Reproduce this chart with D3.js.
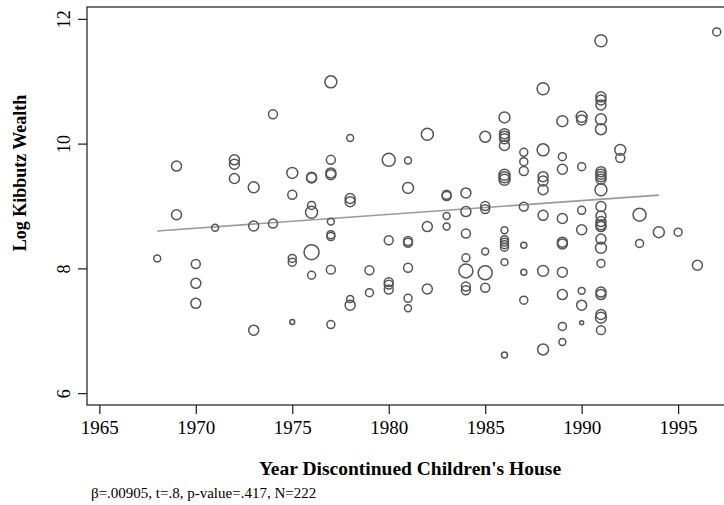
<!DOCTYPE html>
<html>
<head>
<meta charset="utf-8">
<script src="https://cdn.jsdelivr.net/npm/d3@7"></script>
<style>
  html, body { margin: 0; padding: 0; background: #fff; }
  svg { display: block; }
  text { font-family: "Liberation Serif", "Times New Roman", serif; fill: #000; }
</style>
</head>
<body>
<svg id="chart" width="724" height="505"></svg>
<script>
// ---- data ----
const years = [
  1968,
  1969, 1969,
  1970, 1970, 1970,
  1971,
  1972, 1972, 1972,
  1973, 1973, 1973,
  1974, 1974,
  1975, 1975, 1975, 1975, 1975,
  1976, 1976, 1976, 1976, 1976, 1976,
  1977, 1977, 1977, 1977, 1977, 1977, 1977, 1977, 1977,
  1978, 1978, 1978, 1978, 1978,
  1979, 1979,
  1980, 1980, 1980, 1980, 1980,
  1981, 1981, 1981, 1981, 1981, 1981, 1981,
  1982, 1982, 1982,
  1983, 1983, 1983, 1983,
  1984, 1984, 1984, 1984, 1984, 1984, 1984,
  1985, 1985, 1985, 1985, 1985, 1985,
  1986, 1986, 1986, 1986, 1986, 1986, 1986, 1986, 1986, 1986, 1986, 1986, 1986, 1986, 1986,
  1987, 1987, 1987, 1987, 1987, 1987, 1987,
  1988, 1988, 1988, 1988, 1988, 1988, 1988, 1988,
  1989, 1989, 1989, 1989, 1989, 1989, 1989, 1989, 1989, 1989,
  1990, 1990, 1990, 1990, 1990, 1990, 1990, 1990,
  1991, 1991, 1991, 1991, 1991, 1991, 1991, 1991, 1991, 1991, 1991, 1991, 1991, 1991, 1991, 1991, 1991, 1991, 1991, 1991, 1991, 1991, 1991, 1991,
  1992, 1992,
  1993, 1993,
  1994,
  1995,
  1996,
  1997
];
const wealth = [
  8.16,
  9.64, 8.86,
  8.07, 7.76, 7.44,
  8.65,
  9.74, 9.67, 9.44,
  9.30, 8.68, 7.01,
  10.47, 8.72,
  9.53, 9.18, 8.16, 8.10, 7.14,
  9.46, 9.45, 9.01, 8.90, 8.26, 7.89,
  10.99, 9.74, 9.53, 9.50, 8.75, 8.54, 8.51, 7.98, 7.10,
  10.09, 9.12, 9.07, 7.51, 7.41,
  7.97, 7.61,
  9.74, 8.45, 7.78, 7.74, 7.66,
  9.73, 9.29, 8.44, 8.41, 8.01, 7.52, 7.36,
  10.15, 8.67, 7.67,
  9.18, 9.16, 8.84, 8.67,
  9.21, 8.91, 8.56, 8.17, 7.96, 7.71, 7.65,
  10.11, 9.00, 8.95, 8.27, 7.93, 7.69,
  10.42, 10.16, 10.12, 10.08, 9.97, 9.50, 9.46, 9.42, 8.61, 8.46, 8.42, 8.38, 8.34, 8.10, 6.61,
  9.86, 9.71, 9.56, 8.99, 8.37, 7.94, 7.49,
  10.88, 9.90, 9.47, 9.40, 9.26, 8.85, 7.96, 6.70,
  10.36, 9.79, 9.59, 8.80, 8.42, 8.39, 7.94, 7.58, 7.07, 6.82,
  10.43, 10.38, 9.63, 8.93, 8.62, 7.64, 7.41, 7.13,
  11.65, 10.75, 10.70, 10.62, 10.39, 10.23, 9.55, 9.51, 9.47, 9.43, 9.26, 8.99, 8.84, 8.75, 8.70, 8.67, 8.47, 8.33, 8.08, 7.62, 7.58, 7.26, 7.21, 7.01,
  9.90, 9.77,
  8.86, 8.40,
  8.58,
  8.58,
  8.05,
  11.79
];
// relative weight of each kibbutz (marker area)
const weights = [
  12,
  25, 25,
  20, 25, 25,
  12,
  25, 25, 25,
  30, 25, 25,
  20, 20,
  30, 20, 16, 16, 6,
  25, 25, 16, 36, 56, 16,
  36, 20, 25, 25, 12, 16, 16, 20, 16,
  12, 25, 25, 12, 25,
  20, 16,
  42, 20, 20, 20, 20,
  12, 30, 20, 20, 20, 16, 12,
  36, 25, 25,
  20, 20, 12, 12,
  25, 25, 20, 16, 49, 20, 20,
  30, 20, 20, 12, 49, 20,
  30, 25, 25, 25, 25, 30, 30, 30, 12, 16, 16, 16, 16, 12, 9,
  16, 16, 20, 20, 9, 9, 16,
  36, 36, 25, 25, 25, 25, 30, 30,
  30, 16, 25, 25, 25, 25, 25, 25, 16, 12,
  30, 25, 16, 16, 25, 12, 25, 4,
  36, 25, 25, 25, 30, 30, 25, 25, 25, 25, 36, 25, 25, 25, 25, 25, 25, 30, 16, 25, 25, 25, 30, 20,
  30, 20,
  42, 16,
  30,
  16,
  25,
  16
];
const fitYears = [1968, 1994];
const fitValues = [8.60, 9.175];
const xTicks = [1965, 1970, 1975, 1980, 1985, 1990, 1995];
const yTicks = [6, 8, 10, 12];
const xTitle = "Year Discontinued Children's House";
const yTitle = "Log Kibbutz Wealth";
const note = "β=.00905, t=.8, p-value=.417, N=222";

// ---- drawing ----
const svg = d3.select("#chart");
const padL = 87, padT = 7, padB = 405, padR = 736;

const x = d3.scaleLinear().domain([1964.36, 1998]).range([padL, padR]);
const y = d3.scaleLinear().domain([5.81, 12.19]).range([padB, padT]);
const r = d3.scaleSqrt().domain([0, 100]).range([0, 10]);

// frame
svg.append("rect")
  .attr("x", padL).attr("y", padT)
  .attr("width", padR - padL).attr("height", padB - padT)
  .attr("fill", "none").attr("stroke", "#1a1a1a").attr("stroke-width", 1.2);

// x axis
const xAxis = d3.axisBottom(x).tickValues(xTicks).tickFormat(d3.format("d")).tickSize(9).tickPadding(6);
const gx = svg.append("g").attr("transform", `translate(0,${padB})`).call(xAxis);
gx.select(".domain").remove();
gx.selectAll(".tick line").attr("stroke", "#1a1a1a").attr("stroke-width", 1.2);
gx.selectAll(".tick text")
  .attr("font-family", "Liberation Serif, Times New Roman, serif")
  .attr("font-size", 19).attr("fill", "#000")
  .attr("y", 29).attr("dy", null);

// y axis
const yAxis = d3.axisLeft(y).tickValues(yTicks).tickFormat(d3.format("d")).tickSize(9).tickPadding(0);
const gy = svg.append("g").attr("transform", `translate(${padL},0)`).call(yAxis);
gy.select(".domain").remove();
gy.selectAll(".tick line").attr("stroke", "#1a1a1a").attr("stroke-width", 1.2);
gy.selectAll(".tick text")
  .attr("font-family", "Liberation Serif, Times New Roman, serif")
  .attr("font-size", 18).attr("fill", "#000")
  .attr("x", null).attr("dy", null)
  .attr("text-anchor", "middle")
  .attr("transform", "translate(-17,0) rotate(-90)");

// fit line
const fit = fitYears.map((yr, i) => [yr, fitValues[i]]);
svg.append("path")
  .datum(fit)
  .attr("d", d3.line().x(d => x(d[0])).y(d => y(d[1])))
  .attr("fill", "none").attr("stroke", "#9a9a9a").attr("stroke-width", 1.6);

// points
const pts = years.map((yr, i) => ({ yr, v: wealth[i], w: weights[i] }));
svg.append("g").selectAll("circle")
  .data(pts)
  .join("circle")
  .attr("cx", d => x(d.yr))
  .attr("cy", d => y(d.v))
  .attr("r", d => r(d.w))
  .attr("fill", "none")
  .attr("stroke", "#555")
  .attr("stroke-width", 1.5);

// titles
svg.append("text")
  .attr("x", 410).attr("y", 475)
  .attr("text-anchor", "middle")
  .attr("font-size", 19.5).attr("font-weight", "bold")
  .text(xTitle);

svg.append("text")
  .attr("transform", "translate(26,173) rotate(-90)")
  .attr("text-anchor", "middle")
  .attr("font-size", 18).attr("font-weight", "bold")
  .text(yTitle);

svg.append("text")
  .attr("x", 91).attr("y", 498)
  .attr("font-size", 15)
  .text(note);
</script>
</body>
</html>
